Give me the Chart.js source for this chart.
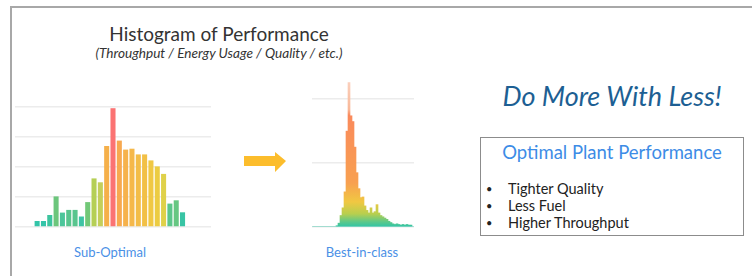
<!DOCTYPE html>
<html>
<head>
<meta charset="utf-8">
<script src="https://cdn.jsdelivr.net/npm/chart.js@4.4.0/dist/chart.umd.min.js"></script>
<style>
  body { margin: 0; background: #fff; font-family: Lato, "Noto Sans", sans-serif; }
  #lienzo { position: relative; width: 752px; height: 276px; overflow: hidden; }
  .marco { position: absolute; left: 10px; top: 6px; width: 760px; height: 290px;
           border-top: 2px solid #a8a8a8; border-left: 2px solid #a8a8a8; }
  .txt { position: absolute; white-space: nowrap; }
  canvas { position: absolute; }
</style>
</head>
<body>
<div id="lienzo">
  <div class="marco"></div>

  <div class="txt" style="left:19px;width:400px;top:23px;line-height:22px;text-align:center;font-size:19px;color:#333;">Histogram of Performance</div>
  <div class="txt" style="left:19px;width:400px;top:46px;line-height:14px;text-align:center;font-size:13.6px;font-style:italic;color:#333;">(Throughput / Energy Usage / Quality / etc.)</div>

  <canvas id="graficaSub" width="196" height="122" style="left:15px;top:106px;"></canvas>
  <canvas id="graficaBest" width="102" height="149" style="left:312px;top:79px;"></canvas>

  <div class="txt" style="left:40px;width:140px;top:244px;text-align:center;font-size:13px;color:#4a90e6;">Sub-Optimal</div>
  <div class="txt" style="left:292px;width:140px;top:244px;text-align:center;font-size:13px;color:#4a90e6;">Best-in-class</div>

  <svg style="position:absolute;left:240px;top:148px;" width="50" height="28">
    <polygon points="4,8 35,8 35,4 46,13 35,24 35,18 4,18" fill="#fcbd2c"/>
  </svg>

  <div class="txt" style="left:480px;width:264px;top:79px;text-align:center;font-size:27px;font-style:italic;color:#1d5f93;">Do More With Less!</div>

  <div style="position:absolute;left:480px;top:137px;width:262px;height:97px;border:1.5px solid #8c8c8c;"></div>
  <div class="txt" style="left:480px;width:264px;top:141px;text-align:center;font-size:18.5px;color:#3d8ce6;">Optimal Plant Performance</div>
  <div class="txt" style="left:486px;top:180px;font-size:14.5px;line-height:17px;color:#222;">
    <div><span style="display:inline-block;width:22px;font-size:11px;vertical-align:1px;">•</span>Tighter Quality</div>
    <div><span style="display:inline-block;width:22px;font-size:11px;vertical-align:1px;">•</span>Less Fuel</div>
    <div><span style="display:inline-block;width:22px;font-size:11px;vertical-align:1px;">•</span>Higher Throughput</div>
  </div>
</div>

<script>
// Histograma sub-optimo: 31 intervalos, los primeros 3 y los ultimos 4 vacios
const binsSub = ['1','2','3','4','5','6','7','8','9','10','11','12','13','14','15','16',
                 '17','18','19','20','21','22','23','24','25','26','27','28','29','30','31'];
const valoresSub = [0, 0, 0,
    0.2, 0.2, 0.4, 1.02, 0.48, 0.57, 0.57, 0.35, 0.83, 1.62, 1.49, 2.7,
    3.96, 2.88, 2.58, 2.61, 2.42, 2.42, 2.22, 2.02, 1.77, 0.78, 0.89, 0.49,
    0, 0, 0, 0];
const coloresSub = ['#33c4a8', '#33c4a8', '#33c4a8',
    '#33c4a8', '#33c4a8', '#3dc49e', '#6cc67c', '#4cc69a', '#58c58e', '#58c58e', '#3ec4a4',
    '#72c878', '#b5cf55', '#c4cf5a', '#f5b04a', '#fb7373', '#f7a94f', '#f6b24c', '#f5b84a',
    '#f3bd48', '#f2c046', '#f0c844', '#eccc42', '#dfd14a', '#5cc68a', '#66c782', '#38c4a4',
    '#33c4a8', '#33c4a8', '#33c4a8', '#33c4a8'];

// Histograma best-in-class: 51 intervalos finos
const binsBest = [];
for (let i = 0; i < 51; i++) binsBest.push(String(i + 1));
const valoresBest = [0, 0, 0, 0, 0, 0, 0, 0, 0, 0, 0, 0, 0.02,
    0.06, 0.18, 0.3, 0.55, 1.5, 2.26, 1.74, 1.65, 1.25, 0.85, 0.6, 0.46,
    0.47, 0.33, 0.26, 0.22, 0.3, 0.22, 0.24, 0.35, 0.22, 0.18, 0.16, 0.14,
    0.12, 0.09, 0.07, 0.05, 0.04, 0.05, 0.04, 0.03, 0.04, 0.03, 0.04, 0.03,
    0.03, 0];

function opcionesBase(maxY) {
    return {
        responsive: false,
        animation: false,
        layout: { padding: { top: 1, bottom: 1, left: 0, right: 0 } },
        plugins: {
            legend: { display: false },
            tooltip: { enabled: false }
        },
        scales: {
            x: { display: false },
            y: {
                min: 0,
                max: maxY,
                ticks: { display: false, stepSize: 1, includeBounds: false },
                grid: { color: '#ececec', lineWidth: 1.5, drawTicks: false },
                border: { display: false }
            }
        }
    };
}

// grafica izquierda
new Chart(document.getElementById('graficaSub').getContext('2d'), {
    type: 'bar',
    data: {
        labels: binsSub,
        datasets: [{
            data: valoresSub,
            backgroundColor: coloresSub,
            borderWidth: 0,
            barPercentage: 0.8,
            categoryPercentage: 1
        }]
    },
    options: opcionesBase(4)
});

// degradado vertical: verde abajo, naranja arriba
function degradado(context) {
    const chart = context.chart;
    const area = chart.chartArea;
    if (!area) return '#f89a5a';
    const g = chart.ctx.createLinearGradient(0, area.bottom, 0, area.top);
    g.addColorStop(0, '#2ec4a8');
    g.addColorStop(0.035, '#5cc88a');
    g.addColorStop(0.09, '#b8cf4e');
    g.addColorStop(0.17, '#f0c842');
    g.addColorStop(0.3, '#f8a050');
    g.addColorStop(0.76, '#fa8a5c');
    g.addColorStop(0.8, '#f9b898');
    g.addColorStop(1, '#fbd2c0');
    return g;
}

// grafica derecha
new Chart(document.getElementById('graficaBest').getContext('2d'), {
    type: 'bar',
    data: {
        labels: binsBest,
        datasets: [{
            data: valoresBest,
            backgroundColor: degradado,
            borderWidth: 0,
            barPercentage: 1,
            categoryPercentage: 1
        }]
    },
    options: opcionesBase(2.3)
});
</script>
</body>
</html>
